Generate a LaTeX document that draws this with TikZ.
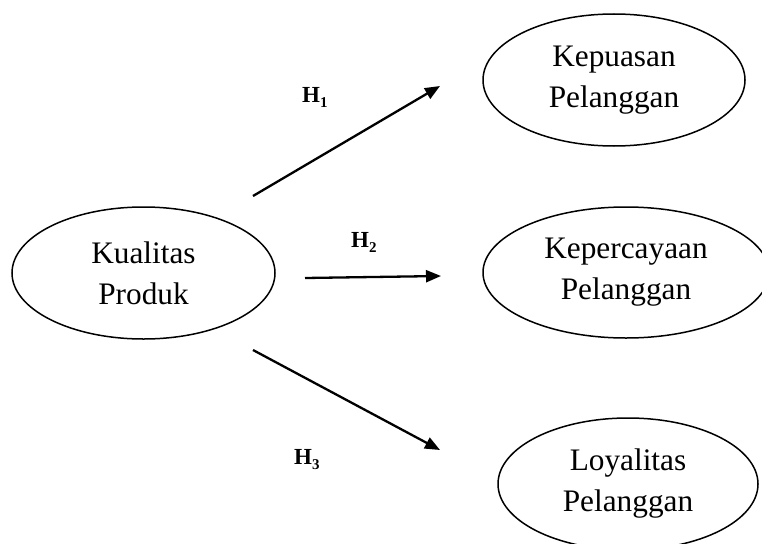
\documentclass[tikz,border=0pt]{standalone}
\usepackage{fontspec}
\setmainfont{Liberation Serif}
\usetikzlibrary{shapes.geometric,arrows.meta}
\newcommand{\hlab}[1]{\fontsize{23}{23}\selectfont\textbf{H}\raisebox{-5pt}{\fontsize{15}{15}\selectfont\textbf{#1}}}
\tikzset{
  var/.style={ellipse, draw, line width=1.5pt, inner sep=0pt, align=center,
    font=\fontsize{31.3}{41}\selectfont},
  hyp/.style={line width=2.3pt, -{Triangle[length=15pt,width=12pt]}},
  hl/.style={inner sep=0pt, anchor=base west}
}
\begin{document}
\begin{tikzpicture}[x=1pt,y=-1pt]
\useasboundingbox (0,0) rectangle (762,543);
\node[var, minimum width=263pt, minimum height=132pt] (kp) at (143.5,273) {Kualitas\\Produk};
\node[var, minimum width=262pt, minimum height=132pt] (kep) at (614,80) {Kepuasan\\Pelanggan};
\node[var, minimum width=286pt, minimum height=131pt] (kpc) at (626,272.5) {Kepercayaan\\Pelanggan};
\node[var, minimum width=260pt, minimum height=132pt] (loy) at (628,484) {Loyalitas\\Pelanggan};
\coordinate (s1) at (253,196);
\coordinate (e1) at (440,86);
\coordinate (s2) at (305,278);
\coordinate (e2) at (441,276);
\coordinate (s3) at (253,350);
\coordinate (e3) at (440,450);
\draw[hyp] (s1) -- (e1);
\draw[hyp] (s2) -- (e2);
\draw[hyp] (s3) -- (e3);
\node[hl] (h1) at (302,102) {\hlab{1}};
\node[hl] (h2) at (351,247) {\hlab{2}};
\node[hl] (h3) at (294,464) {\hlab{3}};
\end{tikzpicture}
\end{document}
